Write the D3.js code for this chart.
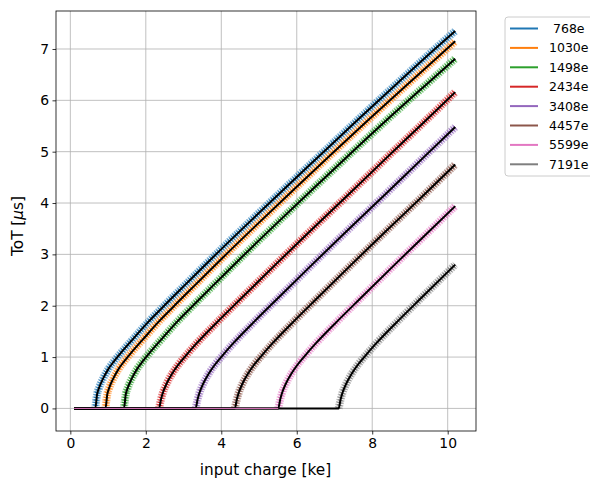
<!DOCTYPE html>
<html>
<head>
<meta charset="utf-8">
<script src="https://cdn.jsdelivr.net/npm/d3@7"></script>
<style>
  body { margin: 0; background: #fff; }
  text { font-family: "DejaVu Sans", sans-serif; fill: #000; }
</style>
</head>
<body>
<script>
// thresholds shown in the legend
var labels = [" 768e", "1030e", "1498e", "2434e", "3408e", "4457e", "5599e", "7191e"];
var colors = ["#1f77b4", "#ff7f0e", "#2ca02c", "#d62728", "#9467bd", "#8c564b", "#e377c2", "#7f7f7f"];

// ToT curves (input charge in ke, ToT in us)
var x768  = [0.1, 0.66, 0.71, 0.76, 0.86, 1.01, 1.16, 1.36, 1.66, 2.06, 2.46, 3.06, 3.76, 4.66, 5.66, 6.66, 7.66, 8.66, 9.66, 10.2];
var y768  = [0, 0, 0.28, 0.40, 0.57, 0.77, 0.92, 1.10, 1.35, 1.68, 1.98, 2.42, 2.93, 3.57, 4.27, 4.96, 5.65, 6.33, 7.00, 7.35];
var x1030 = [0.1, 0.93, 0.98, 1.03, 1.13, 1.28, 1.43, 1.63, 1.93, 2.33, 2.73, 3.33, 4.03, 4.93, 5.93, 6.93, 7.93, 8.93, 9.93, 10.2];
var y1030 = [0, 0, 0.28, 0.40, 0.57, 0.77, 0.92, 1.10, 1.35, 1.68, 1.98, 2.42, 2.93, 3.57, 4.27, 4.96, 5.64, 6.31, 6.97, 7.15];
var x1498 = [0.1, 1.42, 1.47, 1.52, 1.62, 1.77, 1.92, 2.12, 2.42, 2.82, 3.22, 3.82, 4.52, 5.42, 6.42, 7.42, 8.42, 9.42, 10.2];
var y1498 = [0, 0, 0.28, 0.40, 0.57, 0.77, 0.92, 1.10, 1.35, 1.68, 1.98, 2.42, 2.93, 3.57, 4.27, 4.96, 5.64, 6.30, 6.81];
var x2434 = [0.1, 2.35, 2.40, 2.45, 2.55, 2.70, 2.85, 3.05, 3.35, 3.85, 4.55, 5.45, 6.35, 7.35, 8.35, 9.35, 10.2];
var y2434 = [0, 0, 0.17, 0.30, 0.48, 0.68, 0.84, 1.02, 1.27, 1.65, 2.16, 2.81, 3.45, 4.15, 4.86, 5.56, 6.16];
var x3408 = [0.1, 3.32, 3.37, 3.42, 3.52, 3.67, 3.82, 4.02, 4.32, 4.82, 5.52, 6.42, 7.32, 8.32, 9.32, 10.2];
var y3408 = [0, 0, 0.17, 0.30, 0.48, 0.68, 0.84, 1.02, 1.27, 1.65, 2.16, 2.81, 3.45, 4.15, 4.86, 5.48];
var x4457 = [0.1, 4.36, 4.41, 4.46, 4.56, 4.71, 4.86, 5.06, 5.36, 5.86, 6.56, 7.46, 8.36, 9.36, 10.2];
var y4457 = [0, 0, 0.17, 0.30, 0.48, 0.68, 0.84, 1.02, 1.27, 1.65, 2.16, 2.81, 3.45, 4.15, 4.75];
var x5599 = [0.1, 5.51, 5.56, 5.61, 5.71, 5.86, 6.01, 6.21, 6.51, 7.01, 7.71, 8.61, 9.51, 10.2];
var y5599 = [0, 0, 0.17, 0.30, 0.48, 0.68, 0.84, 1.02, 1.27, 1.65, 2.16, 2.81, 3.45, 3.94];
var x7191 = [0.1, 7.11, 7.16, 7.21, 7.31, 7.46, 7.61, 7.81, 8.11, 8.61, 9.31, 10.2];
var y7191 = [0, 0, 0.17, 0.30, 0.48, 0.68, 0.84, 1.02, 1.27, 1.65, 2.16, 2.80];

var xTicks = [0, 2, 4, 6, 8, 10];
var yTicks = [0, 1, 2, 3, 4, 5, 6, 7];

var xs = [x768, x1030, x1498, x2434, x3408, x4457, x5599, x7191];
var ys = [y768, y1030, y1498, y2434, y3408, y4457, y5599, y7191];

var series = labels.map(function(l, i) {
  return {
    label: l,
    color: colors[i],
    points: xs[i].map(function(x, j) { return {x: x, y: ys[i][j]}; })
  };
});

var margin = {top: 11, right: 114, bottom: 49, left: 56},
    width = 590 - margin.left - margin.right,
    height = 480 - margin.top - margin.bottom;

var svg = d3.select("body")
  .append("svg")
    .attr("width", 590)
    .attr("height", 480);

var g = svg.append("g")
    .attr("transform", "translate(" + margin.left + "," + margin.top + ")");

var x = d3.scaleLinear().domain([-0.38, 10.75]).range([0, width]);
var y = d3.scaleLinear().domain([-0.44, 7.74]).range([height, 0]);

// grid
g.append("g").selectAll("line").data(xTicks).enter().append("line")
    .attr("x1", function(d) { return x(d); })
    .attr("x2", function(d) { return x(d); })
    .attr("y1", 0).attr("y2", height)
    .attr("stroke", "#b0b0b0").attr("stroke-width", 0.8);
g.append("g").selectAll("line").data(yTicks).enter().append("line")
    .attr("y1", function(d) { return y(d); })
    .attr("y2", function(d) { return y(d); })
    .attr("x1", 0).attr("x2", width)
    .attr("stroke", "#b0b0b0").attr("stroke-width", 0.8);

var line = d3.line()
    .x(function(d) { return x(d.x); })
    .y(function(d) { return y(d.y); })
    .curve(d3.curveMonotoneX);

// measured points with error bars, drawn as a hatched band
var bands = g.append("g").selectAll("g").data(series).enter().append("g");
bands.append("path")
    .attr("d", function(d) { return line(d.points.slice(1)); })
    .attr("fill", "none")
    .attr("stroke", function(d) { return d.color; })
    .attr("stroke-width", 8)
    .attr("stroke-dasharray", "1.5,1")
    .attr("opacity", 0.55);
bands.append("path")
    .attr("d", function(d) { return line(d.points.slice(1)); })
    .attr("fill", "none")
    .attr("stroke", function(d) { return d.color; })
    .attr("stroke-width", 5)
    .attr("stroke-dasharray", "1.2,1.3")
    .attr("opacity", 0.95);

// fits
g.append("g").selectAll("path").data(series).enter().append("path")
    .attr("d", function(d) { return line(d.points); })
    .attr("fill", "none")
    .attr("stroke", "#000")
    .attr("stroke-width", 2);

// below-threshold points of the 5599e scan stay visible on the zero line
var pink = series[6];
g.append("path")
    .attr("d", d3.line()
        .x(function(d) { return x(d.x); })
        .y(function(d) { return y(d.y); })(pink.points.slice(0, 2)))
    .attr("fill", "none")
    .attr("stroke", pink.color)
    .attr("stroke-width", 1);

// axes
var xAxis = g.append("g")
    .attr("transform", "translate(0," + height + ")")
    .call(d3.axisBottom(x).tickValues(xTicks).tickSize(3.5).tickPadding(3.5).tickFormat(d3.format("d")));
var yAxis = g.append("g")
    .call(d3.axisLeft(y).tickValues(yTicks).tickSize(3.5).tickPadding(3.5).tickFormat(d3.format("d")));
[xAxis, yAxis].forEach(function(a) {
  a.select(".domain").remove();
  a.selectAll("line").attr("stroke", "#000").attr("stroke-width", 0.8);
  a.selectAll("text").attr("font-size", "13.9px").attr("font-family", "DejaVu Sans").attr("fill", "#000");
});

g.append("rect")
    .attr("width", width).attr("height", height)
    .attr("fill", "none").attr("stroke", "#000").attr("stroke-width", 0.8);

// axis labels
svg.append("text")
    .attr("text-anchor", "middle")
    .attr("x", 265.5)
    .attr("y", 474.5)
    .attr("font-size", "15.3px")
    .text("input charge [ke]");

var yl = svg.append("text")
    .attr("text-anchor", "middle")
    .attr("font-size", "15.3px")
    .attr("transform", "translate(22.5,226) rotate(-90)");
yl.append("tspan").text("ToT [");
yl.append("tspan").attr("font-style", "italic").text("\u03bc");
yl.append("tspan").text("s]");

// legend
var legend = svg.append("g").attr("transform", "translate(505,17)");
legend.append("rect")
    .attr("width", 100).attr("height", 159)
    .attr("rx", 3)
    .attr("fill", "#fff").attr("fill-opacity", 0.8)
    .attr("stroke", "#ccc").attr("stroke-width", 1);
var rows = legend.selectAll(".row").data(series).enter().append("g")
    .attr("transform", function(d, i) { return "translate(0," + (11.5 + i * 19.4) + ")"; });
rows.append("line")
    .attr("x1", 5).attr("x2", 33)
    .attr("stroke", function(d) { return d.color; })
    .attr("stroke-width", 2);
rows.append("text")
    .attr("x", 44)
    .attr("dy", "0.36em")
    .attr("font-size", "12.5px")
    .style("white-space", "pre")
    .text(function(d) { return d.label; });
</script>
</body>
</html>
